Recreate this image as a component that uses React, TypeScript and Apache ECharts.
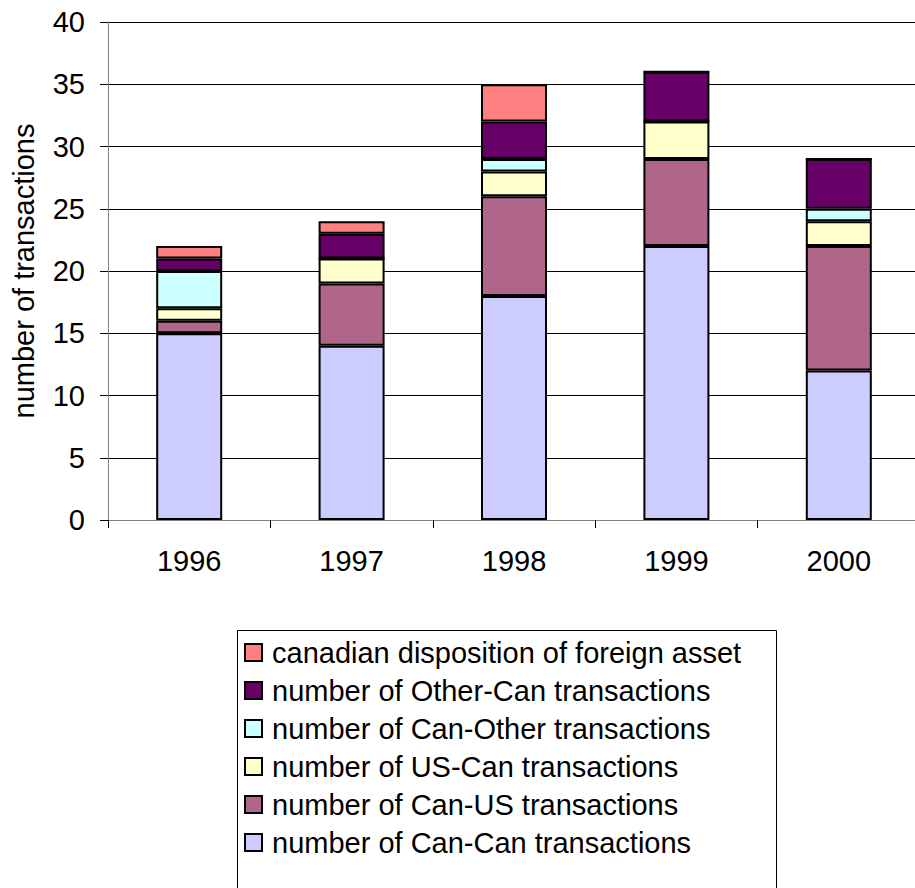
import React, { useEffect, useRef } from "react";
import * as echarts from "echarts";

const years = ["1996", "1997", "1998", "1999", "2000"];
const canCan = [15, 14, 18, 22, 12];
const canUS = [1, 5, 8, 7, 10];
const usCan = [1, 2, 2, 3, 2];
const canOther = [3, 0, 1, 0, 1];
const otherCan = [1, 2, 3, 4, 4];
const disposition = [1, 1, 3, 0, 0];

const seriesNames = [
  "number of Can-Can transactions",
  "number of Can-US transactions",
  "number of US-Can transactions",
  "number of Can-Other transactions",
  "number of Other-Can transactions",
  "canadian disposition of foreign asset",
];
const seriesColors = ["#CCCCFF", "#B06688", "#FFFFCC", "#CCFFFF", "#660066", "#FF8080"];
const seriesData = [canCan, canUS, usCan, canOther, otherCan, disposition];

const FONT = "'Liberation Sans', Arial, sans-serif";

export default function App() {
  const ref = useRef<HTMLDivElement>(null);
  useEffect(() => {
    if (!ref.current) return;
    document.body.style.margin = "0";
    const chart = echarts.init(ref.current, undefined, { renderer: "svg" });
    chart.setOption({
      animation: false,
      backgroundColor: "#ffffff",
      textStyle: { fontFamily: FONT },
      grid: {
        left: 108,
        top: 22,
        width: 812,
        height: 498,
        containLabel: false,
        outerBoundsMode: "none",
      },
      xAxis: {
        type: "category",
        data: years,
        boundaryGap: true,
        axisLine: { show: true, lineStyle: { color: "#808080", width: 1 } },
        axisTick: { show: true, length: 8, lineStyle: { color: "#000" } },
        axisLabel: { color: "#000", fontSize: 29, fontFamily: FONT, margin: 26 },
      },
      yAxis: {
        type: "value",
        min: 0,
        max: 40,
        interval: 5,
        name: "number of transactions",
        nameLocation: "middle",
        nameRotate: 90,
        nameGap: 70,
        nameTextStyle: { color: "#000", fontSize: 29, fontFamily: FONT },
        axisLine: { show: true, lineStyle: { color: "#808080", width: 1 } },
        axisTick: { show: true, length: 8, lineStyle: { color: "#000" } },
        axisLabel: { color: "#000", fontSize: 29, fontFamily: FONT, margin: 23 },
        splitLine: { show: true, lineStyle: { color: "#000", width: 1 } },
      },
      legend: {
        orient: "vertical",
        left: 244,
        top: 638,
        padding: 0,
        itemWidth: 17,
        itemHeight: 17,
        itemGap: 9,
        icon: "rect",
        data: [...seriesNames].reverse(),
        textStyle: {
          color: "#000",
          fontSize: 29,
          fontFamily: FONT,
          lineHeight: 29,
          padding: [0, 0, 0, 5],
        },
      },
      graphic: [
        {
          type: "rect",
          left: 235,
          top: 628,
          shape: { width: 539, height: 275 },
          style: { fill: "none", stroke: "#000", lineWidth: 1 },
          z: -1,
        },
      ],
      series: seriesNames.map((name, i) => ({
        name,
        type: "bar",
        stack: "total",
        barWidth: 66,
        data: seriesData[i],
        itemStyle: { color: seriesColors[i], borderColor: "#000", borderWidth: 2 },
      })),
    });
    return () => chart.dispose();
  }, []);
  return <div ref={ref} style={{ width: 915, height: 888 }} />;
}
